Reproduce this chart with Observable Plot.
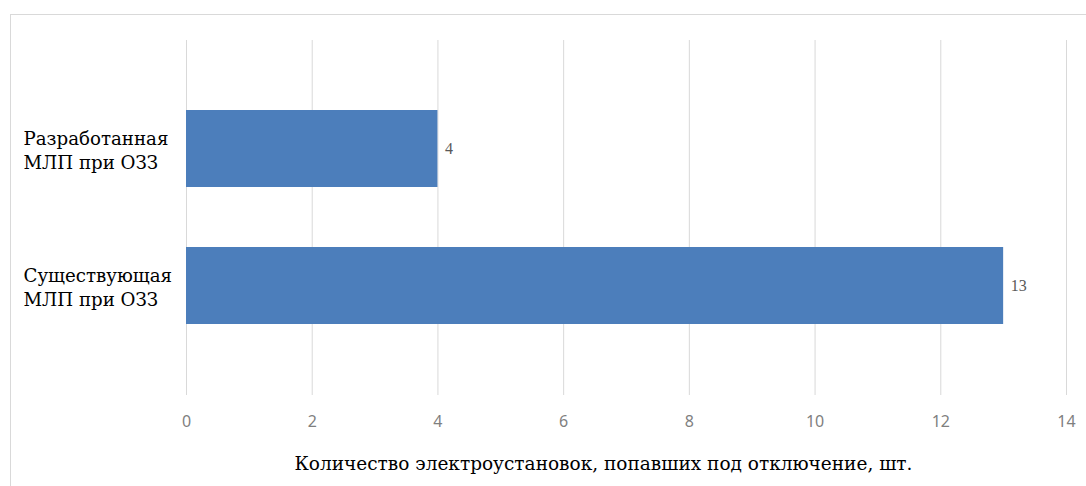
<!DOCTYPE html>
<html>
<head>
<meta charset="utf-8">
<script src="https://cdn.jsdelivr.net/npm/d3@7"></script>
<script src="https://cdn.jsdelivr.net/npm/@observablehq/plot@0.6"></script>
<style>
  html, body { margin: 0; padding: 0; background: #fff; }
  #wrap { position: relative; width: 1086px; height: 486px; overflow: hidden; }
  #border { position: absolute; left: 10px; top: 14px; width: 1100px; height: 500px;
            border-left: 1px solid #d9d9d9; border-top: 1px solid #d9d9d9; }
  #chart { position: absolute; left: 0; top: 0; }
</style>
</head>
<body>
<div id="wrap"><div id="border"></div><div id="chart"></div></div>
<script>
const categories = ["Разработанная\nМЛП при ОЗЗ", "Существующая\nМЛП при ОЗЗ"];
const values = [4, 13];
const xTicks = [0, 2, 4, 6, 8, 10, 12, 14];
const xTitle = "Количество электроустановок, попавших под отключение, шт.";

const data = categories.map((c, i) => ({category: c, value: values[i]}));
const serif = "'DejaVu Serif', serif";

const chart = Plot.plot({
  width: 1086,
  height: 486,
  marginLeft: 186,
  marginRight: 20,
  marginTop: 40,
  marginBottom: 91,
  style: {background: "transparent"},
  x: {domain: [0, 14]},
  y: {domain: categories, paddingInner: 0.435, paddingOuter: 0.511},
  marks: [
    Plot.gridX(xTicks, {stroke: "#d9d9d9", strokeOpacity: 1, strokeWidth: 1}),
    Plot.barX(data, {x: "value", y: "category", fill: "#4c7ebb"}),
    Plot.text(data, {x: "value", y: "category", text: d => String(d.value), textAnchor: "start", dx: 7,
      fontFamily: "'Liberation Serif', serif", fontSize: 16, fill: "#595959"}),
    Plot.axisX(xTicks, {tickSize: 0, tickPadding: 20, label: null, fontFamily: "Noto Sans", fontSize: 16, fill: "#7f7f7f"}),
    Plot.axisY({tickSize: 0, tickPadding: 0, textAnchor: "start", dx: -163, label: null, fontFamily: serif,
      fontSize: 18.2, fill: "#000", lineHeight: 1.36}),
    Plot.text([xTitle], {frameAnchor: "bottom", dy: 74, dx: -23, fontFamily: serif, fontSize: 18.5, fill: "#000"})
  ]
});
document.getElementById("chart").appendChild(chart);
</script>
</body>
</html>
